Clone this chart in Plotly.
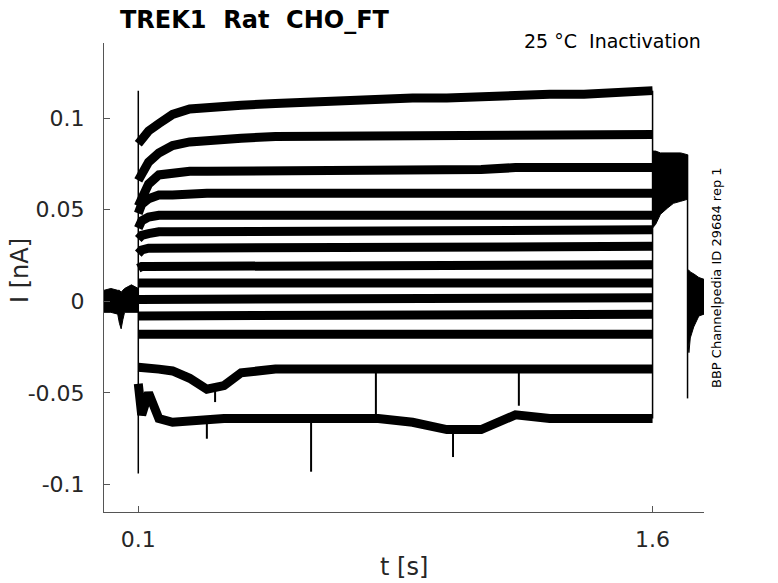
import plotly.graph_objects as go

# holding period before the step (band of the overlaid sweeps)
t_pre = [0.0, 0.02, 0.04, 0.045, 0.05, 0.055, 0.06, 0.08, 0.1]
pre_hi = [0.006, 0.007, 0.006, 0.006, 0.005, 0.006, 0.007, 0.009, 0.007]
pre_lo = [-0.006, -0.006, -0.007, -0.012, -0.015, -0.010, -0.006, -0.006, -0.006]

# test pulse, one list per sweep
t_step = [0.1, 0.11, 0.13, 0.16, 0.2, 0.25, 0.3, 0.35, 0.4, 0.5, 0.6,
          0.7, 0.8, 0.9, 1.0, 1.1, 1.2, 1.3, 1.4, 1.5, 1.6]
i_01 = [0.086, 0.089, 0.093, 0.097, 0.102, 0.105, 0.106, 0.106, 0.107, 0.108, 0.109,
        0.110, 0.110, 0.111, 0.111, 0.112, 0.112, 0.113, 0.113, 0.114, 0.115]
i_02 = [0.066, 0.070, 0.076, 0.081, 0.085, 0.087, 0.088, 0.089, 0.089, 0.090, 0.090,
        0.090, 0.090, 0.090, 0.090, 0.091, 0.091, 0.091, 0.091, 0.091, 0.091]
i_03 = [0.052, 0.057, 0.064, 0.069, 0.070, 0.071, 0.071, 0.071, 0.071, 0.071, 0.072,
        0.072, 0.072, 0.072, 0.072, 0.072, 0.073, 0.073, 0.073, 0.073, 0.073]
i_04 = [0.048, 0.053, 0.056, 0.058, 0.058, 0.059, 0.059, 0.059, 0.059, 0.059, 0.059,
        0.059, 0.059, 0.059, 0.059, 0.059, 0.059, 0.059, 0.059, 0.059, 0.059]
i_05 = [0.040, 0.044, 0.046, 0.047, 0.047, 0.047, 0.047, 0.047, 0.047, 0.047, 0.047,
        0.047, 0.047, 0.047, 0.047, 0.047, 0.047, 0.047, 0.047, 0.047, 0.047]
i_06 = [0.034, 0.036, 0.037, 0.038, 0.038, 0.038, 0.038, 0.038, 0.038, 0.038, 0.038,
        0.038, 0.038, 0.039, 0.039, 0.039, 0.039, 0.039, 0.039, 0.039, 0.039]
i_07 = [0.026, 0.028, 0.029, 0.029, 0.029, 0.029, 0.029, 0.029, 0.029, 0.029, 0.029,
        0.029, 0.029, 0.030, 0.030, 0.030, 0.030, 0.030, 0.030, 0.030, 0.030]
i_08 = [0.018, 0.019, 0.019, 0.019, 0.019, 0.019, 0.019, 0.019, 0.019, 0.019, 0.019,
        0.019, 0.019, 0.020, 0.020, 0.020, 0.020, 0.020, 0.020, 0.020, 0.020]
i_09 = [0.010, 0.010, 0.010, 0.010, 0.010, 0.010, 0.010, 0.010, 0.010, 0.010, 0.010,
        0.010, 0.010, 0.010, 0.010, 0.010, 0.010, 0.010, 0.010, 0.010, 0.010]
i_10 = [0.001, 0.001, 0.001, 0.001, 0.001, 0.001, 0.001, 0.001, 0.001, 0.001, 0.001,
        0.001, 0.001, 0.001, 0.001, 0.001, 0.002, 0.002, 0.002, 0.002, 0.002]
i_11 = [-0.008, -0.008, -0.008, -0.008, -0.008, -0.008, -0.008, -0.008, -0.008, -0.008, -0.008,
        -0.008, -0.008, -0.008, -0.008, -0.008, -0.007, -0.007, -0.007, -0.007, -0.007]
i_12 = [-0.018, -0.018, -0.018, -0.018, -0.018, -0.018, -0.018, -0.018, -0.018, -0.018, -0.018,
        -0.018, -0.018, -0.018, -0.018, -0.018, -0.018, -0.018, -0.018, -0.018, -0.018]
i_13 = [-0.036, -0.036, -0.037, -0.037, -0.038, -0.042, -0.048, -0.046, -0.039, -0.037, -0.037,
        -0.037, -0.038, -0.037, -0.037, -0.037, -0.037, -0.037, -0.037, -0.037, -0.037]
i_14 = [-0.045, -0.062, -0.050, -0.064, -0.066, -0.065, -0.064, -0.064, -0.064, -0.064, -0.064,
        -0.065, -0.064, -0.066, -0.070, -0.070, -0.062, -0.064, -0.064, -0.064, -0.064]
sweeps = [i_01, i_02, i_03, i_04, i_05, i_06, i_07, i_08, i_09, i_10, i_11, i_12, i_13, i_14]

# sharp downward events seen on the bottom sweeps
spike_t = [0.30, 0.604, 1.018, 0.324, 0.793, 1.21]
spike_from = [-0.064, -0.064, -0.070, -0.046, -0.037, -0.037]
spike_to = [-0.075, -0.093, -0.085, -0.055, -0.062, -0.057]

# capacitive transient at step onset
t_on = 0.1
on_hi = 0.115
on_lo = -0.094

# tail after the step (band of the overlaid sweeps)
t_tail = [1.6, 1.609, 1.623, 1.644, 1.661, 1.682, 1.702]
tail_hi = [0.082, 0.082, 0.081, 0.081, 0.081, 0.081, 0.080]
tail_lo = [0.040, 0.042, 0.0475, 0.051, 0.0535, 0.0546, 0.0557]
t_back = 1.702
back_lo = -0.053

# return to holding
t_post = [1.703, 1.706, 1.71, 1.72, 1.735, 1.75]
post_hi = [0.017, 0.017, 0.016, 0.015, 0.013, 0.012]
post_lo = [-0.022, -0.028, -0.020, -0.014, -0.008, -0.007]

ink = 'black'
fig = go.Figure()


def band(t, hi, lo):
    fig.add_trace(go.Scatter(x=t + t[::-1], y=hi + lo[::-1], mode='lines',
                             fill='toself', fillcolor=ink,
                             line=dict(color=ink, width=1), hoverinfo='skip'))


band(t_pre, pre_hi, pre_lo)
band(t_tail, tail_hi, tail_lo)
band(t_post, post_hi, post_lo)

for s in sweeps:
    fig.add_trace(go.Scatter(x=t_step, y=s, mode='lines',
                             line=dict(color=ink, width=9)))

for t, a, b in zip(spike_t, spike_from, spike_to):
    fig.add_trace(go.Scatter(x=[t, t], y=[a, b], mode='lines',
                             line=dict(color=ink, width=2)))

fig.add_trace(go.Scatter(x=[t_on, t_on], y=[on_hi, on_lo], mode='lines',
                         line=dict(color=ink, width=1.5)))
ends = [s[-1] for s in sweeps]
fig.add_trace(go.Scatter(x=[t_step[-1], t_step[-1]], y=[max(ends), min(ends)],
                         mode='lines', line=dict(color=ink, width=1.5)))
fig.add_trace(go.Scatter(x=[t_back, t_back], y=[tail_hi[-1], back_lo],
                         mode='lines', line=dict(color=ink, width=1.5)))

axis_col = '#555555'
txt_col = '#262626'
fig.update_layout(
    width=778, height=583,
    margin=dict(l=104, r=74, t=43, b=71),
    plot_bgcolor='white', paper_bgcolor='white',
    showlegend=False,
    font=dict(family='DejaVu Sans', color=txt_col),
    xaxis=dict(range=[0, 1.75], tickvals=[0.1, 1.6], ticktext=['0.1', '1.6'],
               ticks='inside', ticklen=6, tickcolor=axis_col,
               showline=True, linecolor=axis_col, linewidth=1,
               showgrid=False, zeroline=False, tickfont=dict(size=22),
               ticklabelstandoff=8),
    yaxis=dict(range=[-0.115, 0.141], tickvals=[-0.1, -0.05, 0, 0.05, 0.1],
               ticktext=['-0.1', '-0.05', '0', '0.05', '0.1'],
               ticks='inside', ticklen=6, tickcolor=axis_col,
               showline=True, linecolor=axis_col, linewidth=1,
               showgrid=False, zeroline=False, tickfont=dict(size=22),
               ticklabelstandoff=14),
)

fig.add_annotation(text='<b>TREK1\u00a0\u00a0Rat\u00a0\u00a0CHO_FT</b>',
                   xref='paper', yref='paper', x=0.0233, y=1.05,
                   xanchor='left', yanchor='middle', showarrow=False,
                   font=dict(size=24, color='black'))
fig.add_annotation(text='25 °C\u00a0\u00a0Inactivation',
                   xref='paper', yref='paper', x=0.998, y=1.004,
                   xanchor='right', yanchor='middle', showarrow=False,
                   font=dict(size=19, color='black'))
fig.add_annotation(text='BBP Channelpedia ID 29684 rep 1',
                   xref='paper', yref='paper', x=1.0217, y=0.499,
                   textangle=-90, xanchor='center', yanchor='middle',
                   showarrow=False, font=dict(size=13, color='black'))
fig.add_annotation(text='t [s]', xref='paper', yref='paper', x=0.5, y=-0.117,
                   xanchor='center', yanchor='middle', showarrow=False,
                   font=dict(size=24, color=txt_col))
fig.add_annotation(text='I [nA]', xref='paper', yref='paper', x=-0.14, y=0.516,
                   textangle=-90, xanchor='center', yanchor='middle',
                   showarrow=False, font=dict(size=24, color=txt_col))

# drop the browser's default 8 px page margin so the figure sits at the corner
fig.write_html("out.html", config={'displayModeBar': False},
               post_script="document.body.style.margin = '0';")
